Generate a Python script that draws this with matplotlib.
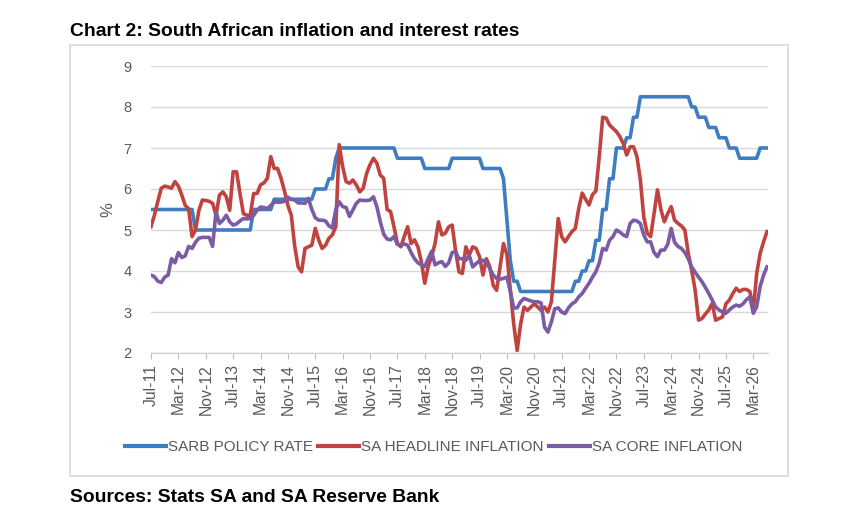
import matplotlib
matplotlib.use("Agg")
import matplotlib.pyplot as plt
from matplotlib.patches import Rectangle
from matplotlib.lines import Line2D

plt.rcParams['font.family'] = ['Liberation Sans', 'DejaVu Sans']

tick_labels = ["Jul-11", "Mar-12", "Nov-12", "Jul-13", "Mar-14", "Nov-14", "Jul-15",
               "Mar-16", "Nov-16", "Jul-17", "Mar-18", "Nov-18", "Jul-19", "Mar-20",
               "Nov-20", "Jul-21", "Mar-22", "Nov-22", "Jul-23", "Mar-24", "Nov-24",
               "Jul-25", "Mar-26"]

policy_rate = [
    5.5, 5.5, 5.5, 5.5, 5.5, 5.5, 5.5, 5.5, 5.5, 5.5, 5.5, 5.5,
    5.5, 5.0, 5.0, 5.0, 5.0, 5.0, 5.0, 5.0, 5.0, 5.0, 5.0, 5.0,
    5.0, 5.0, 5.0, 5.0, 5.0, 5.0, 5.5, 5.5, 5.5, 5.5, 5.5, 5.5,
    5.75, 5.75, 5.75, 5.75, 5.75, 5.75, 5.75, 5.75, 5.75, 5.75, 5.75, 5.75,
    6.0, 6.0, 6.0, 6.0, 6.25, 6.25, 6.75, 7.0, 7.0, 7.0, 7.0, 7.0,
    7.0, 7.0, 7.0, 7.0, 7.0, 7.0, 7.0, 7.0, 7.0, 7.0, 7.0, 7.0,
    6.75, 6.75, 6.75, 6.75, 6.75, 6.75, 6.75, 6.75, 6.5, 6.5, 6.5, 6.5,
    6.5, 6.5, 6.5, 6.5, 6.75, 6.75, 6.75, 6.75, 6.75, 6.75, 6.75, 6.75,
    6.75, 6.5, 6.5, 6.5, 6.5, 6.5, 6.5, 6.25, 5.25, 4.25, 3.75, 3.75,
    3.5, 3.5, 3.5, 3.5, 3.5, 3.5, 3.5, 3.5, 3.5, 3.5, 3.5, 3.5,
    3.5, 3.5, 3.5, 3.5, 3.75, 3.75, 4.0, 4.0, 4.25, 4.25, 4.75, 4.75,
    5.5, 5.5, 6.25, 6.25, 7.0, 7.0, 7.0, 7.25, 7.25, 7.75, 7.75, 8.25,
    8.25, 8.25, 8.25, 8.25, 8.25, 8.25, 8.25, 8.25, 8.25, 8.25, 8.25, 8.25,
    8.25, 8.25, 8.0, 8.0, 7.75, 7.75, 7.75, 7.5, 7.5, 7.5, 7.25, 7.25,
    7.25, 7.0, 7.0, 7.0, 6.75, 6.75, 6.75, 6.75, 6.75, 6.75, 7.0, 7.0,
    7.0,
]

headline = [
    5.08, 5.36, 5.7, 6.02, 6.07, 6.05, 6.02, 6.18, 6.07, 5.85, 5.6, 5.52,
    4.84, 5.0, 5.48, 5.73, 5.72, 5.7, 5.65, 5.36, 5.85, 5.93, 5.81, 5.48,
    6.42, 6.42, 5.89, 5.4, 5.36, 5.36, 5.89, 5.89, 6.1, 6.15, 6.26, 6.79,
    6.5, 6.5, 6.26, 5.95, 5.6, 5.36, 4.6, 4.1, 3.98, 4.55, 4.59, 4.63,
    5.04, 4.76, 4.55, 4.63, 4.8, 4.88, 5.08, 7.08, 6.55, 6.18, 6.14, 6.22,
    6.1, 5.93, 6.02, 6.38, 6.59, 6.75, 6.63, 6.34, 6.26, 5.5, 5.45, 5.08,
    4.67, 4.59, 4.84, 5.08, 4.67, 4.76, 4.59, 4.23, 3.7, 4.11, 4.35, 4.67,
    5.2, 4.88, 4.92, 5.08, 5.12, 4.5, 3.98, 3.94, 4.59, 4.39, 4.59, 4.55,
    4.35, 3.9, 4.3, 4.1, 3.65, 3.53, 4.1, 4.67, 4.4, 3.55, 2.7, 2.06,
    2.7, 3.12, 3.04, 3.12, 3.2, 3.12, 3.04, 3.12, 3.0, 3.25, 4.25, 5.28,
    4.84, 4.71, 4.84, 4.96, 5.04, 5.53, 5.9, 5.75, 5.61, 5.86, 5.95, 6.8,
    7.75, 7.73, 7.56, 7.48, 7.4, 7.28, 7.11, 6.83, 7.03, 7.03, 6.79, 6.22,
    5.32, 4.92, 4.84, 5.4, 5.98, 5.5, 5.2, 5.4, 5.57, 5.24, 5.16, 5.1,
    5.0, 4.43, 4.02, 3.54, 2.8, 2.84, 2.95, 3.05, 3.21, 2.8, 2.84, 2.88,
    3.2, 3.29, 3.45, 3.58, 3.5, 3.55, 3.55, 3.5, 3.05, 3.94, 4.43, 4.71,
    4.96,
]

core = [
    3.9, 3.86, 3.75, 3.72, 3.85, 3.9, 4.3, 4.2, 4.45, 4.33, 4.37, 4.6,
    4.55, 4.7, 4.8, 4.82, 4.82, 4.82, 4.6, 5.44, 5.16, 5.24, 5.36, 5.2,
    5.12, 5.15, 5.22, 5.28, 5.27, 5.28, 5.36, 5.48, 5.56, 5.55, 5.52, 5.6,
    5.68, 5.68, 5.68, 5.7, 5.8, 5.75, 5.73, 5.66, 5.66, 5.65, 5.77, 5.5,
    5.3, 5.24, 5.24, 5.22, 5.1, 5.05, 5.5, 5.69, 5.57, 5.55, 5.33, 5.49,
    5.65, 5.73, 5.72, 5.72, 5.73, 5.81, 5.57, 5.2, 4.9, 4.78, 4.76, 4.84,
    4.65, 4.63, 4.66, 4.63, 4.45, 4.3, 4.2, 4.15, 4.11, 4.3, 4.48, 4.15,
    4.2, 4.23, 4.11, 4.2, 4.45, 4.47, 4.3, 4.3, 4.26, 4.38, 4.1, 4.18,
    4.25, 4.26, 4.2, 4.06, 3.9, 3.82, 3.8, 3.82, 3.85, 3.5, 3.1, 3.1,
    3.25, 3.33, 3.3, 3.27, 3.25, 3.25, 3.22, 2.63, 2.51, 2.76, 3.08, 3.1,
    3.0, 2.96, 3.1, 3.2, 3.25, 3.37, 3.45, 3.58, 3.7, 3.85, 3.98, 4.2,
    4.55, 4.51, 4.75, 4.84, 5.0, 4.95, 4.88, 4.84, 5.16, 5.24, 5.22, 5.16,
    4.88, 4.71, 4.71, 4.45, 4.35, 4.51, 4.51, 4.65, 5.04, 4.7, 4.6, 4.55,
    4.45, 4.3, 4.1, 3.97, 3.85, 3.74, 3.6, 3.45, 3.29, 3.12, 3.05, 3.0,
    2.97, 3.05, 3.12, 3.17, 3.14, 3.2, 3.3, 3.37, 2.97, 3.13, 3.62, 3.9,
    4.1,
]

series_names = ["SARB POLICY RATE", "SA HEADLINE INFLATION", "SA CORE INFLATION"]
colors = ["#3f7dc2", "#c0433f", "#7b5ba3"]

W, H = 845, 529
fig = plt.figure(figsize=(W / 100, H / 100), dpi=100)

# outer chart border
fig.patches.append(Rectangle((70 / W, 1 - 476 / H), 718 / W, 431 / H,
                             transform=fig.transFigure, fill=False,
                             edgecolor="#d9d9d9", linewidth=1.2))

left, right, top, bottom = 151, 768, 66, 353
ax = fig.add_axes([left / W, 1 - bottom / H, (right - left) / W, (bottom - top) / H])

x = list(range(len(headline)))
ax.plot(x, policy_rate, color=colors[0], lw=2.6, solid_joinstyle="round")
ax.plot(x, headline, color=colors[1], lw=2.6, solid_joinstyle="round")
ax.plot(x, core, color=colors[2], lw=2.6, solid_joinstyle="round")

ax.set_xlim(0, 180.3)
ax.set_ylim(2, 9)
ax.set_yticks(range(2, 10))
ax.grid(axis="y", color="#d9d9d9", lw=1)
ax.set_axisbelow(True)
for s in ["top", "right", "left"]:
    ax.spines[s].set_visible(False)
ax.spines["bottom"].set_color("#d0d0d0")
ax.spines["bottom"].set_linewidth(1)

ax.set_xticks(range(0, 8 * len(tick_labels), 8))
ax.set_xticklabels(tick_labels, rotation=90, fontsize=11.3, color="#595959")
ax.tick_params(axis="x", direction="out", length=4, color="#bfbfbf", pad=4)
ax.tick_params(axis="y", length=0, labelsize=10.5, labelcolor="#595959", pad=14)
ax.set_ylabel("%", fontsize=12, color="#595959", labelpad=6)

handles = [Line2D([], [], color=c, lw=3.0) for c in colors]
fig.legend(handles, series_names, loc="center", bbox_to_anchor=(0.513, 1 - 447 / H),
           ncol=3, frameon=False, fontsize=11, handlelength=2.7, handletextpad=0.1,
           columnspacing=0.35, labelcolor="#595959")

fig.text(70 / W, 1 - 31 / H, "Chart 2: South African inflation and interest rates",
         fontsize=13.9, fontweight="bold", va="center", ha="left", color="black")
fig.text(70 / W, 1 - 497 / H, "Sources: Stats SA and SA Reserve Bank",
         fontsize=13.9, fontweight="bold", va="center", ha="left", color="black")

fig.savefig("out.png", dpi=100)
